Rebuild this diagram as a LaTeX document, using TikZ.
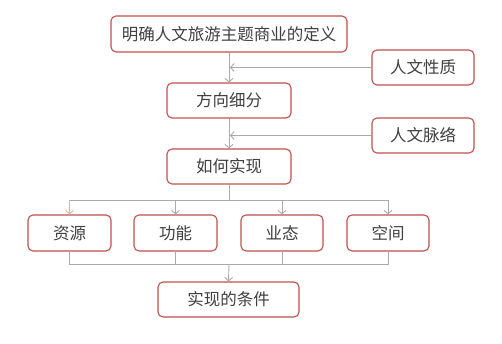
\documentclass[tikz,border=0pt]{standalone}
\usepackage{fontspec}
\setmainfont{Noto Sans CJK SC}
\usetikzlibrary{arrows.meta}
\definecolor{boxred}{RGB}{192,80,77}
\definecolor{linegray}{RGB}{170,170,170}
\definecolor{tipor}{RGB}{244,177,131}
\definecolor{txt}{RGB}{64,64,64}
\tikzset{
  stepbox/.style={draw=boxred, line width=1.1pt, rounded corners=5pt, fill=white,
    inner sep=0pt, text=txt, font=\fontsize{16.5}{18}\selectfont},
  conn/.style={draw=linegray, line width=0.9pt},
  arr/.style={conn, -{Straight Barb[length=3.5pt,width=8pt]}},
}
\begin{document}
\begin{tikzpicture}[x=1pt,y=-1pt]
\useasboundingbox (0,0) rectangle (502,344);
\node[stepbox, minimum width=236pt, minimum height=36pt] (top) at (229,34) {明确人文旅游主题商业的定义};
\node[stepbox, minimum width=102pt, minimum height=35pt] (rwxz) at (423,67.5) {人文性质};
\node[stepbox, minimum width=124pt, minimum height=35pt] (fxxf) at (229,100.5) {方向细分};
\node[stepbox, minimum width=102pt, minimum height=35pt] (rwml) at (423,135.5) {人文脉络};
\node[stepbox, minimum width=124pt, minimum height=35pt] (rhsx) at (229,166.5) {如何实现};
\node[stepbox, minimum width=83pt, minimum height=36pt] (zy) at (69.5,233) {资源};
\node[stepbox, minimum width=83pt, minimum height=36pt] (gn) at (175.5,233) {功能};
\node[stepbox, minimum width=82pt, minimum height=36pt] (yt) at (282,233) {业态};
\node[stepbox, minimum width=82pt, minimum height=36pt] (kj) at (388,233) {空间};
\node[stepbox, minimum width=141pt, minimum height=35pt] (sxtj) at (228.5,299.5) {实现的条件};
\coordinate (split) at (229,200);
\coordinate (merge) at (229,264);
\draw[arr] (top.south) -- (fxxf.north);
\draw[arr] (rwxz.west) -- ([xshift=1pt]rwxz.west -| top.south);
\draw[arr] (fxxf.south) -- (rhsx.north);
\draw[arr] (rwml.west) -- ([xshift=1pt]rwml.west -| fxxf.south);
\draw[conn] (rhsx.south) -- (split);
\draw[arr, draw=tipor] (split -| zy.north) -- (zy.north);
\draw[conn] (split) -- (split -| zy.north);
\draw[arr] (split) -| (gn.north);
\draw[arr] (split) -| (yt.north);
\draw[arr] (split) -| (kj.north);
\draw[conn] (zy.south) |- (merge);
\draw[conn] (gn.south) |- (merge);
\draw[conn] (yt.south) |- (merge);
\draw[conn] (kj.south) |- (merge);
\draw[arr] (merge) -- (sxtj.north);
\end{tikzpicture}
\end{document}
